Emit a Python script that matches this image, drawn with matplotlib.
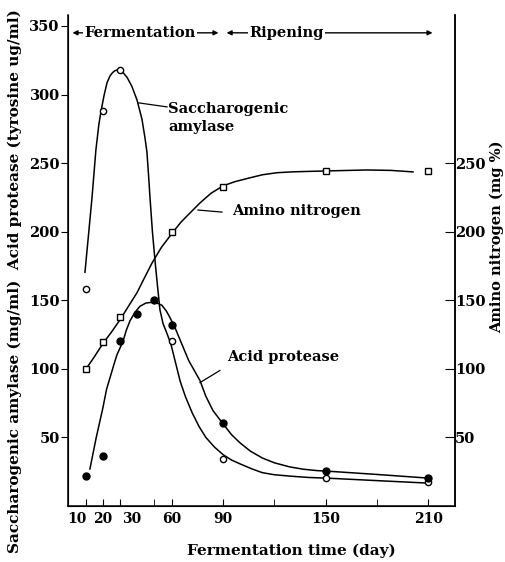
import numpy as np
import matplotlib.pyplot as plt
from matplotlib.transforms import ScaledTranslation

# measured points (day, value)
amylase_days = [10, 20, 30, 60, 90, 150, 210]
amylase_vals = [158, 288, 318, 120, 34, 20.5, 17.5]

protease_days = [10, 20, 30, 40, 50, 60, 90, 150, 210]
protease_vals = [22, 36.6, 120, 140, 150, 132, 60.7, 25.6, 20.5]

amino_days = [10, 20, 30, 60, 90, 150, 210]
amino_vals = [100, 119.7, 137.6, 199.7, 232.7, 244, 244]

# hand-drawn smooth curves
amylase_curve_days = [9.4, 11.5, 13.5, 15.8, 17.5, 18.8, 20.5, 22.3, 24, 25.5, 27, 28.7, 30.5, 32,
                      34, 36.8, 39.8, 42.7, 44.5, 45.6, 46.5, 47.4, 48.8, 50.3, 51.8, 53.2, 55,
                      57.3, 59.6, 62, 65, 68, 72, 76, 80, 85, 90, 95, 100, 107, 113, 120, 129,
                      140, 151, 180, 208]
amylase_curve_vals = [170.4, 198, 224.6, 259.7, 278, 288, 299, 308.7, 313.5, 316, 317.5, 318, 317,
                      315.5, 312.5, 306, 296, 282, 268, 258, 242, 224.6, 200, 179, 160, 143, 133,
                      125.8, 118, 106, 91, 80, 68, 58, 50, 43, 37.5, 33.5, 30.7, 27, 24.3, 22.8,
                      21.8, 20.8, 20.3, 18.5, 16.8]

protease_curve_days = [12.3, 16, 19.9, 22, 25.8, 28, 31.6, 33.5, 35.7, 38.5, 41.5, 45, 48.5, 51.5,
                       54.4, 57, 59, 62, 65, 70, 76.6, 80, 84.2, 90, 95, 100, 106, 113, 120, 129,
                       137, 145, 151, 180, 208]
protease_curve_vals = [27, 50, 71.7, 85, 101, 110, 120, 128, 135, 141, 145.6, 148, 148.5, 148,
                       146.3, 142, 137.5, 130, 121, 106, 91.4, 80, 69.5, 60, 52, 46, 40, 35, 31.5,
                       28.5, 26.8, 25.8, 25.4, 23, 20.5]

amino_curve_days = [9.4, 15, 19.9, 25, 30.4, 35, 39.8, 44, 48.5, 54, 60.8, 65.5, 70.7, 76.6, 83,
                    90, 97, 105.8, 113, 121.5, 130, 140.8, 157, 174, 188, 201]
amino_curve_vals = [98.8, 109, 118.5, 127, 136.8, 146, 155.5, 166, 177, 188.5, 199.7, 207, 213.6,
                    221, 228, 233.4, 236.5, 239.3, 241.5, 243, 243.6, 244, 244.5, 245, 244.7, 243.6]

xtick_days = [10, 20, 30, 60, 90, 150, 210]
xminor_days = [50, 120, 180]
ytick_left = [50, 100, 150, 200, 250, 300, 350]
ytick_right = [50, 100, 150, 200, 250]

plt.rcParams['font.family'] = 'DejaVu Serif'
plt.rcParams['font.weight'] = 'bold'

fig = plt.figure(figsize=(5.05, 5.62), dpi=100)
ax = fig.add_axes([68 / 505, 1 - 506 / 562, 387 / 505, 491 / 562])

lw = 1.1
ax.plot(amylase_curve_days, amylase_curve_vals, color='black', lw=lw)
ax.plot(protease_curve_days, protease_curve_vals, color='black', lw=lw)
ax.plot(amino_curve_days, amino_curve_vals, color='black', lw=lw)

ax.plot(amylase_days, amylase_vals, 'o', ms=4.5, mfc='white', mec='black', mew=1.0)
ax.plot(protease_days, protease_vals, 'o', ms=5, mfc='black', mec='black')
ax.plot(amino_days, amino_vals, 's', ms=4, mfc='white', mec='black', mew=1.0)

ax.set_xlim(-0.5, 225.5)
ax.set_ylim(0, 358)

ax.spines['top'].set_visible(False)
for s in ['left', 'right', 'bottom']:
    ax.spines[s].set_linewidth(1.1)

ax.set_xticks(xtick_days)
ax.set_xticks(xminor_days, minor=True)
ax.set_yticks(ytick_left)
ax.tick_params(axis='x', which='both', direction='in', length=5, pad=4, labelsize=10)
ax.tick_params(axis='y', direction='out', length=5, pad=1, labelsize=10.5)

# crowded early-day labels are nudged apart as in the original
xlabels = ax.get_xticklabels()
shifts = {0: -9, 2: 11}
for i, dx in shifts.items():
    xlabels[i].set_transform(xlabels[i].get_transform() +
                             ScaledTranslation(dx / 100, 0, fig.dpi_scale_trans))

ax2 = ax.twinx()
ax2.set_ylim(ax.get_ylim())
ax2.set_yticks(ytick_right)
ax2.tick_params(axis='y', direction='in', length=7, pad=0, labelsize=10.5)
ax2.spines['top'].set_visible(False)
ax2.spines['right'].set_linewidth(1.1)

# phase arrows at the top
ax.annotate('', xy=(0.5, 345), xytext=(89, 345),
            arrowprops=dict(arrowstyle='<|-|>', color='black', lw=1.0, mutation_scale=7))
ax.annotate('', xy=(90.5, 345), xytext=(214, 345),
            arrowprops=dict(arrowstyle='<|-|>', color='black', lw=1.0, mutation_scale=7))
ax.text(41.5, 345, 'Fermentation', ha='center', va='center', fontsize=10.5,
        bbox=dict(fc='white', ec='none', pad=1))
ax.text(127, 345, 'Ripening', ha='center', va='center', fontsize=10.5,
        bbox=dict(fc='white', ec='none', pad=1))

# curve labels with leader lines
ax.plot([40.4, 57.3], [294, 291], color='black', lw=0.9)
ax.text(58, 283, 'Saccharogenic\namylase', ha='left', va='center', fontsize=10.5, linespacing=1.3)
ax.plot([75.4, 89.4], [215.8, 214.3], color='black', lw=0.9)
ax.text(95.3, 215.4, 'Amino nitrogen', ha='left', va='center', fontsize=10.5)
ax.plot([76.6, 88.2], [90, 98.8], color='black', lw=0.9)
ax.text(92.3, 108.3, 'Acid protease', ha='left', va='center', fontsize=10.5)

# axis titles
fig.text(291 / 505, 1 - 551 / 562, 'Fermentation time (day)', ha='center', va='center', fontsize=11)
fig.text(15 / 505, 1 - 281 / 562, 'Saccharogenic amylase (mg/ml)  Acid protease (tyrosine ug/ml)',
         ha='center', va='center', rotation=90, fontsize=11)
fig.text(497 / 505, 1 - 237 / 562, 'Amino nitrogen (mg %)', ha='center', va='center',
         rotation=90, fontsize=10.5)

fig.savefig('out.png', dpi=100)
